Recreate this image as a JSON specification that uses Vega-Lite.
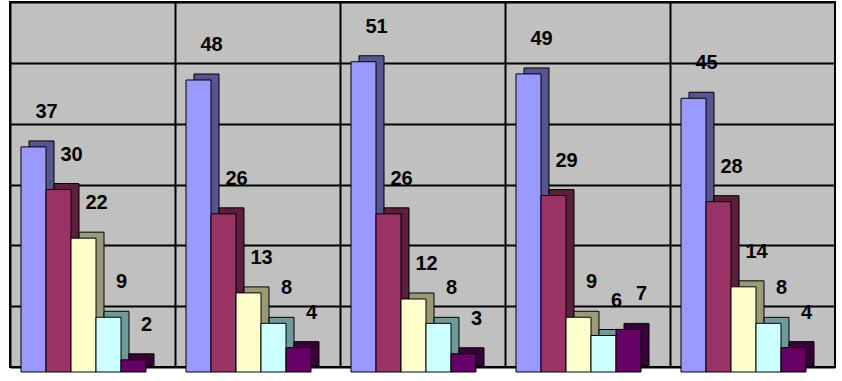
{
  "$schema": "https://vega.github.io/schema/vega-lite/v6.json",
  "width": 825,
  "height": 365,
  "autosize": "none",
  "padding": {"left": 10, "top": 2, "right": 7, "bottom": 14},
  "background": "white",
  "config": {"view": {"fill": "#c0c0c0", "stroke": "black", "strokeWidth": 2}},
  "data": {"values": [
    {"group": "1", "series": "s1", "value": 37},
    {"group": "1", "series": "s2", "value": 30},
    {"group": "1", "series": "s3", "value": 22},
    {"group": "1", "series": "s4", "value": 9},
    {"group": "1", "series": "s5", "value": 2},
    {"group": "2", "series": "s1", "value": 48},
    {"group": "2", "series": "s2", "value": 26},
    {"group": "2", "series": "s3", "value": 13},
    {"group": "2", "series": "s4", "value": 8},
    {"group": "2", "series": "s5", "value": 4},
    {"group": "3", "series": "s1", "value": 51},
    {"group": "3", "series": "s2", "value": 26},
    {"group": "3", "series": "s3", "value": 12},
    {"group": "3", "series": "s4", "value": 8},
    {"group": "3", "series": "s5", "value": 3},
    {"group": "4", "series": "s1", "value": 49},
    {"group": "4", "series": "s2", "value": 29},
    {"group": "4", "series": "s3", "value": 9},
    {"group": "4", "series": "s4", "value": 6},
    {"group": "4", "series": "s5", "value": 7},
    {"group": "5", "series": "s1", "value": 45},
    {"group": "5", "series": "s2", "value": 28},
    {"group": "5", "series": "s3", "value": 14},
    {"group": "5", "series": "s4", "value": 8},
    {"group": "5", "series": "s5", "value": 4}
  ]},
  "encoding": {
    "x": {"field": "group", "type": "nominal",
      "scale": {"paddingInner": 0, "paddingOuter": 0},
      "axis": {"grid": true, "gridColor": "black", "gridWidth": 2, "gridOpacity": 1, "bandPosition": 0, "labels": false, "ticks": false, "domain": false, "title": null}},
    "y": {"field": "value", "type": "quantitative",
      "scale": {"domain": [0, 60], "nice": false},
      "axis": {"grid": true, "gridColor": "black", "gridWidth": 2, "gridOpacity": 1, "values": [0, 10, 20, 30, 40, 50, 60], "labels": false, "ticks": false, "domain": false, "title": null}}
  },
  "layer": [
    {
      "mark": {"type": "bar", "yOffset": -1, "y2Offset": -1, "stroke": "black", "strokeWidth": 1},
      "encoding": {
        "xOffset": {"field": "series", "type": "nominal", "scale": {"type": "band", "paddingInner": 0, "paddingOuter": 0.8, "align": 0.475}},
        "color": {"field": "series", "type": "nominal", "scale": {"range": ["#55558f", "#5c1f3d", "#9a9a78", "#6f9a9a", "#3a003a"]}, "legend": null}}
    },
    {
      "mark": {"type": "bar", "yOffset": 5, "y2Offset": 5, "stroke": "black", "strokeWidth": 1},
      "encoding": {
        "xOffset": {"field": "series", "type": "nominal", "scale": {"type": "band", "paddingInner": 0, "paddingOuter": 0.8, "align": 0.275}},
        "fill": {"field": "series", "type": "nominal", "scale": {"range": ["#9999ff", "#993366", "#ffffcc", "#ccffff", "#660066"]}, "legend": null}}
    },
    {
      "mark": {"type": "text", "dx": 13, "dy": -30, "fontSize": 20, "fontWeight": "bold", "font": "Liberation Sans", "baseline": "middle", "align": "center", "color": "black"},
      "encoding": {
        "xOffset": {"field": "series", "type": "nominal", "bandPosition": 0.5, "scale": {"type": "band", "paddingInner": 0, "paddingOuter": 0.8, "align": 0.275}},
        "text": {"field": "value", "type": "quantitative"}}
    }
  ],
  "resolve": {"scale": {"color": "independent", "fill": "independent", "xOffset": "independent"}}
}
